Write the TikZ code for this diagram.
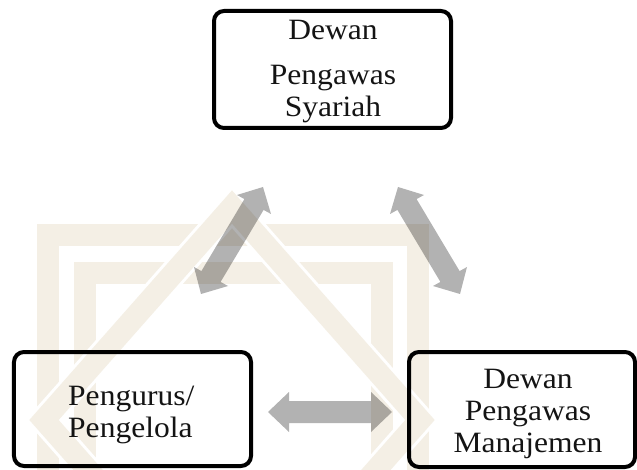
\documentclass[tikz,border=0pt]{standalone}
\usepackage{fontspec}
\setmainfont{Liberation Serif}[FakeStretch=1.07]
\definecolor{arrowgray}{RGB}{178,178,178}
\definecolor{textblack}{RGB}{20,20,20}
\definecolor{marktan}{RGB}{244,239,229}
\begin{document}
\begin{tikzpicture}[x=1bp,y=-1bp,
  boxstyle/.style={draw=black, line width=4bp, rounded corners=10bp, inner sep=0pt, rectangle},
  txt/.style={inner sep=0pt, text=textblack, font=\fontsize{29.6}{32.1}\selectfont, anchor=base},
  blockarrow/.style={fill=arrowgray, draw=none},
  markband/.style={draw=marktan, line width=22bp, line join=miter},
  markgap/.style={draw=white, line width=28bp, line join=miter}]
\useasboundingbox (0,0) rectangle (637,470);
\begin{scope}
\clip (0,0) rectangle (637,470);
% faint watermark (simplified)
\draw[markgap] (48,520) -- (48,235) -- (418,235) -- (418,520);
\draw[markband] (48,520) -- (48,235) -- (418,235) -- (418,520);
\draw[markgap] (85,520) -- (85,273) -- (382,273) -- (382,520);
\draw[markband] (85,520) -- (85,273) -- (382,273) -- (382,520);
\draw[markgap] (232,207) -- (420,420) -- (232,633) -- (44,420) -- cycle;
\draw[markband] (232,207) -- (420,420) -- (232,633) -- (44,420) -- cycle;
\end{scope}
% boxes
\node[boxstyle, minimum width=237bp, minimum height=117bp] (dss) at (332.5,69.5) {};
\node[boxstyle, minimum width=237bp, minimum height=114bp] (pp) at (132.5,409) {};
\node[boxstyle, minimum width=226bp, minimum height=115bp] (dpm) at (522,409.5) {};
% texts
\node[txt] (dss1) at (333,40) {Dewan};
\node[txt] (dss2) at (333,85) {Pengawas};
\node[txt] (dss3) at (333,117) {Syariah};
\node[txt, anchor=base west] (pp1) at (68,405) {Pengurus/};
\node[txt, anchor=base west] (pp2) at (68,437) {Pengelola};
\node[txt] (dpm1) at (528,388) {Dewan};
\node[txt] (dpm2) at (528,420) {Pengawas};
\node[txt] (dpm3) at (528,452) {Manajemen};
% block arrows
\begin{scope}[blend mode=multiply]
\fill[blockarrow] (263,187) -- (271,214) -- (263.6,209.9) -- (220.6,281.9) -- (228,286) -- (201,294) -- (194,267) -- (201.4,271.1) -- (244.4,199.1) -- (237,195) -- cycle;
\fill[blockarrow] (398,187) -- (390,214) -- (397.4,209.9) -- (440.4,281.9) -- (433,286) -- (460,294) -- (467,267) -- (459.6,271.1) -- (416.6,199.1) -- (424,195) -- cycle;
\fill[blockarrow] (268,412) -- (289,392) -- (289,401) -- (371,401) -- (371,392) -- (392,412) -- (371,432) -- (371,423) -- (289,423) -- (289,432) -- cycle;
\end{scope}
\end{tikzpicture}
\end{document}
